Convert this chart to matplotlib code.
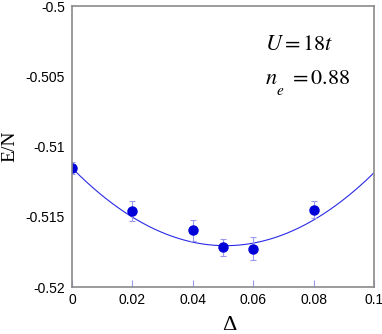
import matplotlib
matplotlib.use("Agg")
import matplotlib.pyplot as plt
import numpy as np

# data
delta = [0.0, 0.02, 0.04, 0.05, 0.06, 0.08]
energy = [-0.51153, -0.51459, -0.51597, -0.51718, -0.51727, -0.51450]
energy_err = [0.0004, 0.0007, 0.00074, 0.0006, 0.0008, 0.0006]

# quadratic fit coefficients: a + b*x + c*x^2
fit_a = -0.51153
fit_b = -0.2177
fit_c = 2.143

plt.rcParams['mathtext.fontset'] = 'stix'

fig = plt.figure(figsize=(3.82, 3.34), dpi=100)
ax = fig.add_axes([0.1885, 0.1407, 0.7905, 0.8413])

xs = np.linspace(0, 0.1, 200)
ax.plot(xs, fit_a + fit_b * xs + fit_c * xs**2, color='#2a2ae6', lw=0.8)
ax.errorbar(delta, energy, yerr=energy_err, fmt='none', ecolor='#9a9af0',
            elinewidth=0.8, capsize=2.5, capthick=0.8)
ax.plot(delta, energy, 'o', color='#0000d8', ms=6.5, mec='#0000d8')

ax.set_xlim(0, 0.1)
ax.set_ylim(-0.52, -0.5)
ax.set_xticks([0, 0.02, 0.04, 0.06, 0.08, 0.1])
ax.set_xticklabels(['0', '0.02', '0.04', '0.06', '0.08', '0.1'])
ax.set_yticks([-0.52, -0.515, -0.51, -0.505, -0.5])
ax.set_yticklabels(['-0.52', '-0.515', '-0.51', '-0.505', '-0.5'])

for s in ax.spines.values():
    s.set_color('#8a8a8a')
    s.set_linewidth(1.2)
ax.tick_params(axis='x', direction='in', length=5, width=0.8, color='#9a9af0',
               labelsize=10, pad=4)
ax.tick_params(axis='y', length=0, labelsize=10, pad=5)
for lab in ax.get_xticklabels() + ax.get_yticklabels():
    lab.set_family('Liberation Sans')

ax.set_xlabel('Δ', family='Liberation Serif', fontsize=16)
ax.xaxis.set_label_coords(0.52, -0.102)
ax.set_ylabel('E/N', family='Liberation Serif', fontsize=14)
ax.yaxis.set_label_coords(-0.178, 0.5)

# annotation, placed in figure pixels like the reference
W, H = 382, 334
fig.text(265 / W, 1 - 50 / H, r'$U = 18t$', fontsize=16, va='baseline')
fig.text(265 / W, 1 - 84 / H, r'$n$', fontsize=16, va='baseline')
fig.text(276 / W, 1 - 95 / H, r'$e$', fontsize=11, va='baseline')
fig.text(289 / W, 1 - 84 / H, r'$= 0.88$', fontsize=16, va='baseline')

fig.savefig('out.png', dpi=100)
